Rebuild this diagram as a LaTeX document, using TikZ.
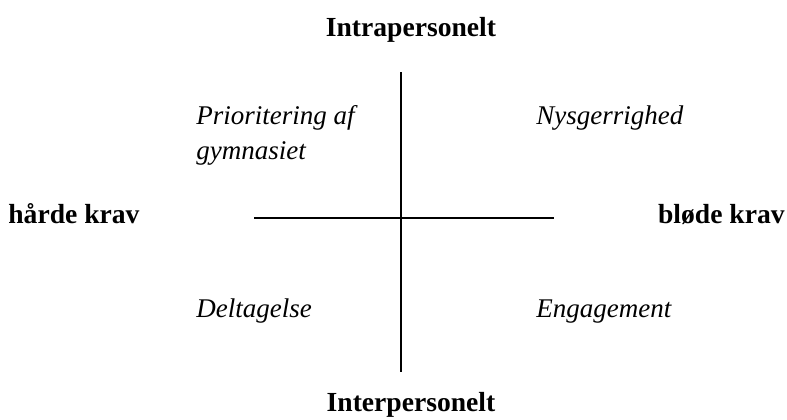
\documentclass[tikz,border=0pt]{standalone}
\usepackage{fontspec}
\setmainfont{Liberation Serif}
\usetikzlibrary{positioning}

\tikzset{
  axislabel/.style={font=\fontsize{13.8}{17}\selectfont\bfseries,inner sep=0pt},
  quadlabel/.style={font=\fontsize{13.5}{17.5}\selectfont\itshape,inner sep=0pt,anchor=base west,align=left},
  axisline/.style={line width=0.6pt}
}

\begin{document}
\begin{tikzpicture}[x=0.5pt,y=0.5pt]
        \useasboundingbox (0,0) rectangle (787,419);
        % axes
        \coordinate (top) at (401,347);
        \coordinate (bot) at (401,47);
        \coordinate (left) at (254,201);
        \coordinate (right) at (554,201);
        \draw[axisline] (top) -- (bot);
        \draw[axisline] (left) -- (right);
        % axis labels
        \node[axislabel] (intra) at (411,389) {Intrapersonelt};
        \node[axislabel] (inter) at (411,14) {Interpersonelt};
        \node[axislabel,anchor=west] (hard) at (8,205) {hårde krav};
        \node[axislabel,anchor=east] (soft) at (785,205) {bløde krav};
        % quadrants
        \node[quadlabel] (prio) at (196,260) {Prioritering af\\gymnasiet};
        \node[quadlabel] (nysg) at (536,295) {Nysgerrighed};
        \node[quadlabel] (delt) at (196,102) {Deltagelse};
        \node[quadlabel] (enga) at (536,102) {Engagement};
      \end{tikzpicture}
\end{document}
